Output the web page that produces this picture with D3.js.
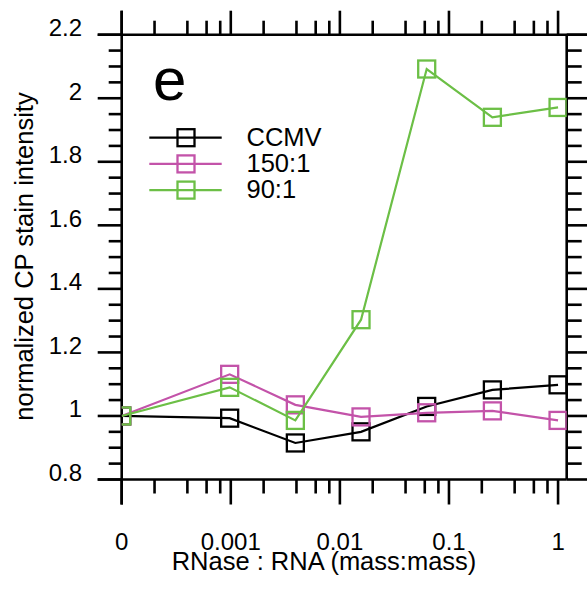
<!DOCTYPE html>
<html>
<head>
<meta charset="utf-8">
<script src="https://cdn.jsdelivr.net/npm/d3@7"></script>
<style>
  body { margin: 0; background: #fff; }
  svg { display: block; font-family: "Liberation Sans", Arial, Helvetica, sans-serif; }
</style>
</head>
<body>
<svg id="chart" width="587" height="592"></svg>
<script>
// RNase:RNA ratios (0 sits one decade left of 0.001 on the log axis)
var ratios = [0, 1/1024, 1/256, 1/64, 1/16, 1/4, 1]
var seriesNames = ["CCMV", "150:1", "90:1"]
var ccmv = [1.0, 0.993, 0.915, 0.950, 1.030, 1.082, 1.098]
var ratio150 = [1.0, 1.131, 1.035, 0.997, 1.010, 1.016, 0.986]
var ratio90 = [1.0, 1.090, 0.986, 1.303, 2.092, 1.940, 1.971]
var seriesColors = ["#000000", "#c353a9", "#6cbf46"]

var xTickValues = [1e-4, 1e-3, 1e-2, 1e-1, 1]
var xTickLabels = ["0", "0.001", "0.01", "0.1", "1"]
var yTickValues = [0.8, 1, 1.2, 1.4, 1.6, 1.8, 2, 2.2]
var yTickLabels = ["0.8", "1", "1.2", "1.4", "1.6", "1.8", "2", "2.2"]

var zeroPos = 1e-4
var plot = {left: 121.7, right: 566.7, top: 34.7, bottom: 479.5}

var svg = d3.select("#chart")

var x = d3.scaleLog().domain([zeroPos, 1.2]).range([plot.left, plot.right])
var y = d3.scaleLinear().domain([0.8, 2.2]).range([plot.bottom, plot.top])

var xPos = function(v){ return x(v == 0 ? zeroPos : v) }

// minor ticks: 2,4,6,8 in each decade, y every 0.05
var xMinor = []
xTickValues.slice(0, 4).forEach(function(d){
  [2, 4, 6, 8].forEach(function(m){ xMinor.push(d * m) })
})
var yMinor = d3.range(0.8, 2.2001, 0.05).filter(function(v){
  return Math.abs(Math.round(v * 5) - v * 5) > 1e-6
})

var axisColor = "#000"
var axisWidth = 2.6

function tickLines(g, values, orient, len){
  g.selectAll(null)
    .data(values)
    .enter().append("line")
      .attr("x1", function(d){ return orient == "left" ? plot.left : orient == "right" ? plot.right : x(d) })
      .attr("x2", function(d){ return orient == "left" ? plot.left - len : orient == "right" ? plot.right + len : x(d) })
      .attr("y1", function(d){ return orient == "top" ? plot.top : orient == "bottom" ? plot.bottom : y(d) })
      .attr("y2", function(d){ return orient == "top" ? plot.top - len : orient == "bottom" ? plot.bottom + len : y(d) })
      .attr("stroke", axisColor)
      .attr("stroke-width", axisWidth)
}

var axes = svg.append("g").attr("class", "axes")

tickLines(axes, yTickValues, "left", 24)
tickLines(axes, yMinor, "left", 13)
tickLines(axes, yTickValues, "right", 21)
tickLines(axes, yMinor, "right", 15)
tickLines(axes, xTickValues, "top", 24)
tickLines(axes, xMinor, "top", 14)
tickLines(axes, xTickValues, "bottom", 25)
tickLines(axes, xMinor, "bottom", 14)

// frame lines
axes.append("line").attr("x1", plot.left).attr("x2", plot.left).attr("y1", plot.top - 24).attr("y2", plot.bottom + 25)
axes.append("line").attr("x1", plot.left - 24).attr("x2", 587).attr("y1", plot.top).attr("y2", plot.top)
axes.append("line").attr("x1", plot.right).attr("x2", plot.right).attr("y1", plot.top).attr("y2", plot.bottom)
axes.append("line").attr("x1", plot.left - 24).attr("x2", plot.right).attr("y1", plot.bottom).attr("y2", plot.bottom)
axes.selectAll("line").attr("stroke", axisColor).attr("stroke-width", axisWidth)

// tick labels
svg.append("g").selectAll("text")
    .data(yTickValues)
  .enter().append("text")
    .attr("x", 82)
    .attr("y", function(d){ return y(d) + 1.5 })
    .attr("text-anchor", "end")
    .attr("font-size", 24)
    .text(function(d, i){ return yTickLabels[i] })

svg.append("g").selectAll("text")
    .data(xTickValues)
  .enter().append("text")
    .attr("x", function(d){ return x(d) })
    .attr("y", 550)
    .attr("text-anchor", "middle")
    .attr("font-size", 24)
    .text(function(d, i){ return xTickLabels[i] })

// axis titles
svg.append("text")
    .attr("x", 324)
    .attr("y", 570)
    .attr("text-anchor", "middle")
    .attr("font-size", 25.5)
    .text("RNase : RNA (mass:mass)")

svg.append("text")
    .attr("transform", "translate(33," + 256.5 + ") rotate(-90)")
    .attr("text-anchor", "middle")
    .attr("font-size", 25.5)
    .text("normalized CP stain intensity")

// panel letter
svg.append("text")
    .attr("x", 153)
    .attr("y", 100)
    .attr("font-size", 60)
    .text("e")

// data
svg.append("clipPath").attr("id", "plot-clip")
  .append("rect")
    .attr("x", plot.left).attr("y", plot.top)
    .attr("width", plot.right - plot.left).attr("height", plot.bottom - plot.top)

var seriesData = [ccmv, ratio150, ratio90].map(function(vals, i){
  return {name: seriesNames[i], color: seriesColors[i],
    points: vals.map(function(v, j){ return {r: ratios[j], v: v} })}
})

var line = d3.line()
  .x(function(d){ return xPos(d.r) })
  .y(function(d){ return y(d.v) })

var box = 17

var series = svg.append("g")
    .attr("clip-path", "url(#plot-clip)")
  .selectAll(".series")
    .data(seriesData)
  .enter().append("g")
    .attr("class", "series")

series.append("path")
    .attr("d", function(d){ return line(d.points) })
    .attr("fill", "none")
    .attr("stroke", function(d){ return d.color })
    .attr("stroke-width", 2.2)

series.selectAll("rect")
    .data(function(d){ return d.points.map(function(p){ return {p: p, color: d.color} }) })
  .enter().append("rect")
    .attr("x", function(d){ return xPos(d.p.r) - box/2 })
    .attr("y", function(d){ return y(d.p.v) - box/2 })
    .attr("width", box)
    .attr("height", box)
    .attr("fill", "none")
    .attr("stroke", function(d){ return d.color })
    .attr("stroke-width", 2.3)

// legend
var legend = svg.append("g").selectAll("g")
    .data(seriesData)
  .enter().append("g")
    .attr("transform", function(d, i){ return "translate(0," + (137.7 + i * 26.2) + ")" })

legend.append("line")
    .attr("x1", 149.3).attr("x2", 221.7)
    .attr("stroke", function(d){ return d.color })
    .attr("stroke-width", 2.2)

legend.append("rect")
    .attr("x", 186 - box/2).attr("y", -box/2)
    .attr("width", box).attr("height", box)
    .attr("fill", "none")
    .attr("stroke", function(d){ return d.color })
    .attr("stroke-width", 2.3)

legend.append("text")
    .attr("x", 246.5)
    .attr("y", 8)
    .attr("font-size", 25.5)
    .text(function(d){ return d.name })
</script>
</body>
</html>
